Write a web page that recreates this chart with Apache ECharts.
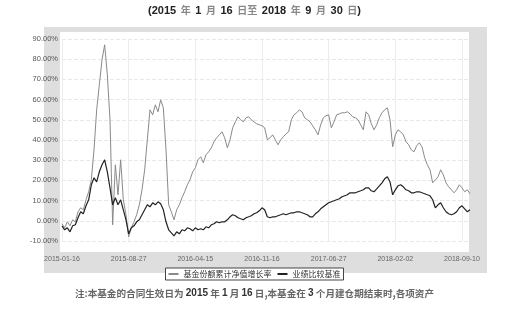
<!DOCTYPE html>
<html><head><meta charset="utf-8">
<script src="https://cdn.jsdelivr.net/npm/echarts@6/dist/echarts.min.js"></script>
<style>html,body{margin:0;padding:0;background:#fff}#c{width:509px;height:309px}</style>
</head><body><div id="c"></div>
<script>
const seriesNames = ['基金份额累计净值增长率', '业绩比较基准'];
const xTickLabels = ['2015-01-16', '2015-08-27', '2016-04-15', '2016-11-16', '2017-06-27', '2018-02-02', '2018-09-10'];
const yTickValues = [-10, 0, 10, 20, 30, 40, 50, 60, 70, 80, 90];
const fundValues = [
  -1.49, -3.47, -0.50, -2.48, 0.50, -0.50, 4.46, 6.44, 5.45, 10.40,
  14.36, 20.30, 35.15, 54.95, 67.33, 79.70, 87.13, 72.28, 50.00, -1.98,
  27.72, 12.87, 30.20, 10.40, 2.97, -7.92, -3.47, -0.50, 2.97, 7.92,
  15.35, 25.25, 40.10, 54.95, 52.48, 57.43, 53.96, 59.90, 55.94, 35.15,
  7.92, 4.46, 0.50, 5.45, 7.92, 11.39, 14.36, 17.82, 20.30, 24.26,
  26.24, 30.20, 31.68, 28.71, 32.67, 34.16, 36.14, 39.11, 41.09, 42.57,
  44.06, 41.09, 36.14, 40.10, 46.04, 49.01, 51.49, 50.00, 49.01, 50.99,
  51.49, 50.00, 49.01, 48.02, 47.52, 47.03, 46.04, 40.10, 41.09, 42.57,
  40.10, 37.62, 40.10, 41.58, 43.07, 44.06, 50.00, 52.48, 53.47, 54.95,
  53.96, 50.99, 50.00, 49.01, 47.03, 45.05, 42.57, 47.52, 50.99, 51.98,
  52.48, 46.04, 49.01, 52.48, 52.97, 53.47, 53.47, 53.96, 52.97, 51.49,
  50.99, 50.00, 47.52, 45.05, 53.96, 52.48, 48.02, 45.05, 47.52, 50.99,
  53.47, 54.95, 55.94, 50.00, 36.63, 42.57, 45.05, 44.06, 42.57, 39.11,
  37.62, 35.15, 34.16, 37.13, 38.61, 36.63, 31.19, 27.72, 25.25, 18.81,
  20.30, 21.78, 25.25, 22.77, 18.81, 16.83, 15.35, 13.86, 15.35, 17.82,
  16.34, 14.36, 15.35, 13.37
];
const benchmarkValues = [
  -2.48, -4.46, -3.47, -5.45, -2.48, -1.98, 1.49, 4.46, 3.47, 7.43,
  10.40, 17.82, 21.29, 19.31, 24.26, 27.72, 30.20, 24.26, 16.34, 7.92,
  11.39, 7.92, 10.40, 5.45, 0.50, -6.44, -3.47, -2.48, -0.50, 0.50,
  2.97, 5.45, 7.92, 6.93, 8.91, 7.92, 9.41, 8.42, 5.45, -0.50,
  -4.46, -5.94, -7.43, -5.45, -6.44, -4.46, -4.95, -3.47, -3.96, -4.95,
  -3.47, -4.46, -3.96, -4.46, -2.97, -3.47, -1.98, -1.49, -0.50, -0.99,
  -0.50, -0.50, 0.50, 1.98, 2.97, 2.48, 1.49, 0.99, 0.50, 1.49,
  1.98, 2.48, 3.47, 3.96, 4.95, 6.44, 5.45, 1.98, 1.49, 1.98,
  1.98, 2.48, 2.97, 3.47, 2.97, 3.47, 3.96, 3.96, 4.46, 4.46,
  3.96, 3.47, 2.97, 1.98, 1.98, 3.47, 4.46, 5.94, 6.93, 7.92,
  8.91, 9.41, 9.90, 10.40, 10.89, 11.88, 12.38, 12.87, 13.86, 13.86,
  13.86, 14.36, 14.85, 15.35, 16.34, 16.34, 14.85, 14.36, 15.84, 17.33,
  18.81, 20.79, 21.78, 19.31, 12.87, 15.35, 17.33, 17.82, 16.83, 15.35,
  14.85, 13.86, 13.86, 14.36, 14.36, 13.86, 13.37, 12.87, 12.38, 10.40,
  6.44, 7.92, 8.91, 6.44, 4.46, 3.47, 2.97, 3.47, 4.46, 6.44,
  7.43, 5.94, 4.46, 5.45
];
const categories = fundValues.map((v, i) => String(i));
const labelStep = 25;

const chart = echarts.init(document.getElementById('c'), null, {renderer: 'canvas'});
chart.setOption({
  animation: false,
  backgroundColor: '#fff',
  title: [{
    text: '{n|(2015}{c|  年  }{n|1}{c|  月  }{n|16}{c|  日至  }{n|2018}{c|  年  }{n|9}{c|  月  }{n|30}{c|  日}{n|)}',
    left: 'center', top: 0,
    textStyle: {rich: {
      n: {fontFamily: 'Liberation Sans', fontSize: 11, fontWeight: 'bold', color: '#222'},
      c: {fontFamily: 'Noto Sans CJK SC', fontSize: 10, color: '#888'}
    }}
  }, {
    text: '{c|注:本基金的合同生效日为 }{n|2015}{c| 年 }{n|1}{c| 月 }{n|16}{c| 日,本基金在 }{n|3}{c| 个月建仓期结束时,各项资产}',
    left: 'center', top: 283,
    textStyle: {rich: {
      n: {fontFamily: 'Liberation Sans', fontSize: 10, fontWeight: 'bold', color: '#333'},
      c: {fontFamily: 'Noto Sans CJK SC', fontSize: 9.6, color: '#666'}
    }}
  }],
  graphic: [
    {type: 'rect', z: -10, shape: {x: 44, y: 27, width: 443, height: 246}, style: {fill: '#dedede'}},
    {type: 'rect', z: -9, shape: {x: 60, y: 32, width: 409, height: 220}, style: {fill: '#ffffff'}}
  ],
  legend: {
    data: seriesNames,
    bottom: 29, left: 'center',
    itemWidth: 10, itemHeight: 2, itemGap: 6,
    padding: [2, 3],
    backgroundColor: '#fff', borderColor: '#444', borderWidth: 1,
    icon: 'rect',
    textStyle: {fontFamily: 'Noto Sans CJK SC', fontSize: 8, color: '#333'}
  },
  grid: {left: 62, right: 39, top: 39, bottom: 68, containLabel: false},
  xAxis: {
    type: 'category', data: categories, boundaryGap: false,
    axisLine: {show: false}, axisTick: {show: false},
    axisLabel: {
      interval: labelStep - 1, margin: 15, fontSize: 7, color: '#666', fontFamily: 'Liberation Sans',
      formatter: (v, idx) => xTickLabels[Math.round(idx / labelStep)] || ''
    },
    splitLine: {show: true, interval: labelStep - 1, lineStyle: {color: '#ececec', width: 1}}
  },
  yAxis: {
    type: 'value', min: yTickValues[0], max: yTickValues[yTickValues.length - 1], interval: 10,
    axisLine: {show: false}, axisTick: {show: false},
    axisLabel: {fontSize: 7.5, color: '#555', margin: 4, fontFamily: 'Liberation Sans', formatter: v => v.toFixed(2) + '%'},
    splitLine: {lineStyle: {color: '#e8e8e8', type: 'dashed', width: 1}}
  },
  series: [
    {name: seriesNames[0], type: 'line', data: fundValues, showSymbol: false, lineStyle: {color: '#8a8a8a', width: 1}, itemStyle: {color: '#8a8a8a'}},
    {name: seriesNames[1], type: 'line', data: benchmarkValues, showSymbol: false, lineStyle: {color: '#222', width: 1.2}, itemStyle: {color: '#222'}}
  ]
});
</script></body></html>
